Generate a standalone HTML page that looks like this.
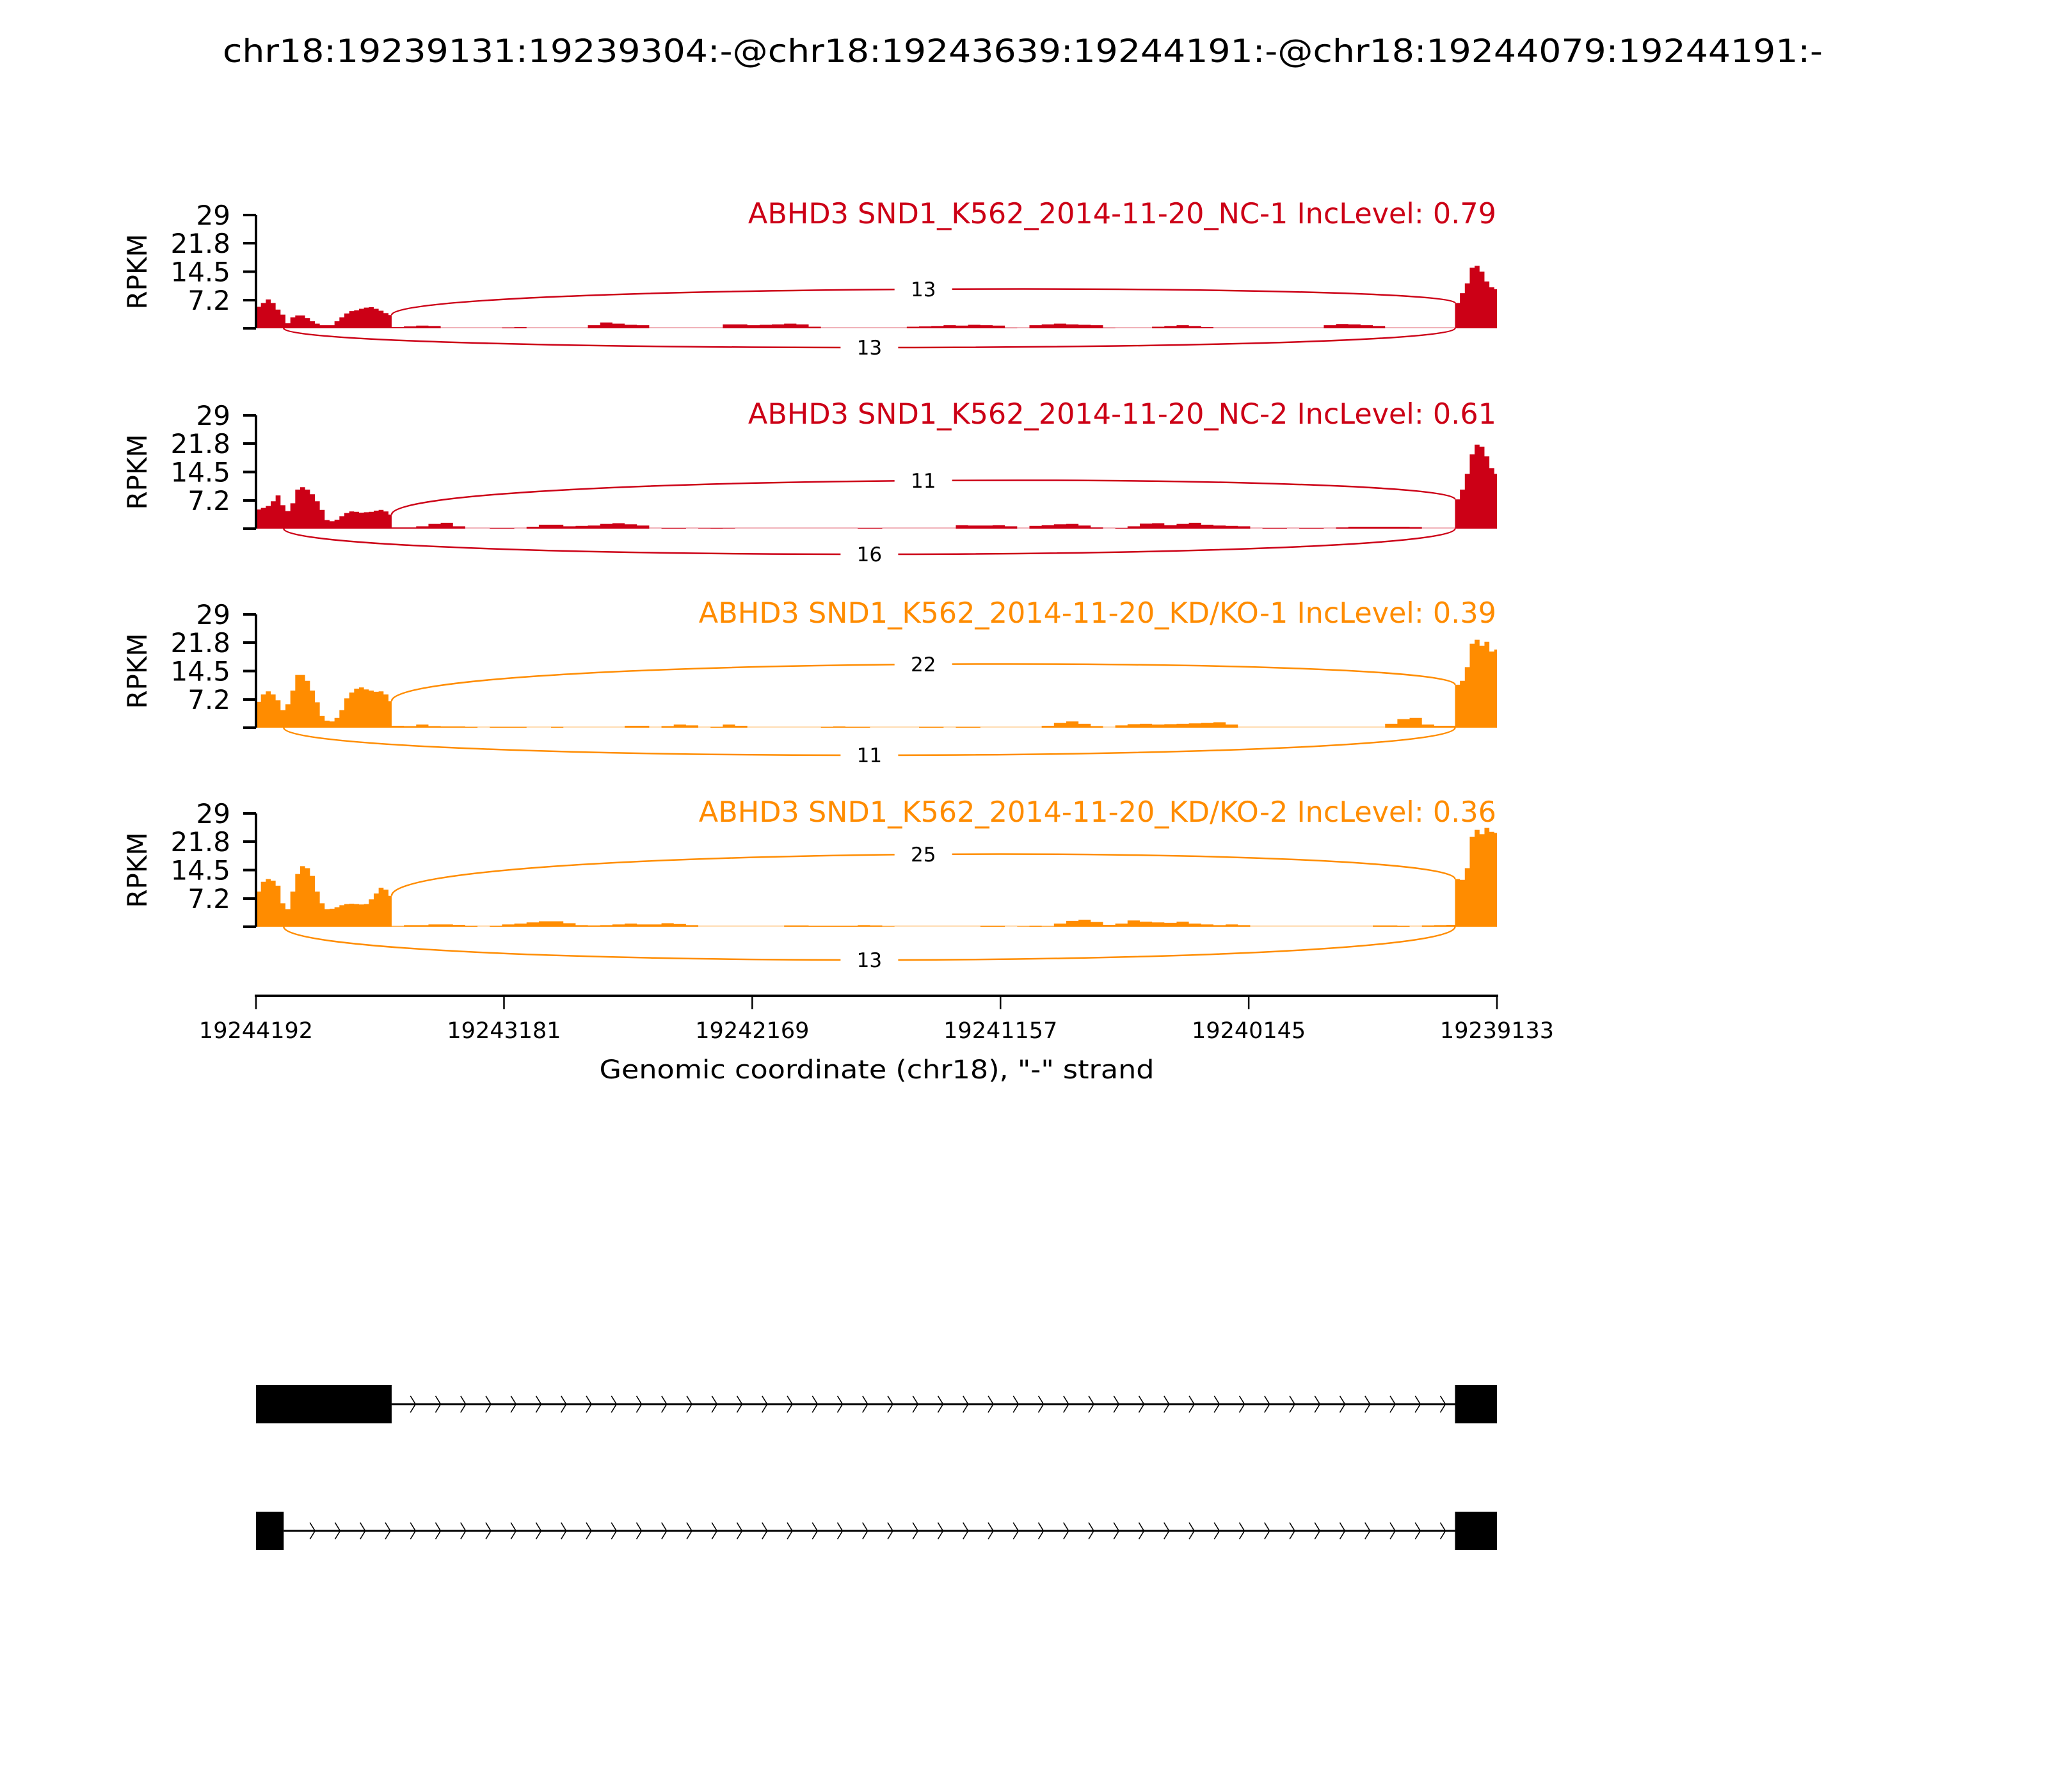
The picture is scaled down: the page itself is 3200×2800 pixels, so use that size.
<!DOCTYPE html>
<html><head><meta charset="utf-8"><title>Sashimi plot</title>
<style>
html,body{margin:0;padding:0;background:#fff;}
svg{display:block;font-family:"DejaVu Sans","Liberation Sans",sans-serif;}
</style></head>
<body>
<svg id="chart" width="3200" height="2800" viewBox="0 0 3200 2800" xmlns="http://www.w3.org/2000/svg">
<rect x="0" y="0" width="3200" height="2800" fill="#fff"/>
<text x="348" y="97" font-size="50" textLength="2500" lengthAdjust="spacingAndGlyphs">chr18:19239131:19239304:-@chr18:19243639:19244191:-@chr18:19244079:19244191:-</text>
<g id="panels"></g>
<g id="xaxis"></g>
<g id="genes"></g>
</svg>
<script>
// ---- data ----
const sampleNames = ["ABHD3 SND1_K562_2014-11-20_NC-1","ABHD3 SND1_K562_2014-11-20_NC-2","ABHD3 SND1_K562_2014-11-20_KD/KO-1","ABHD3 SND1_K562_2014-11-20_KD/KO-2"];
const incLevels = ["0.79","0.61","0.39","0.36"];
const sampleColors = ["#CC0016","#CC0016","#FF8C00","#FF8C00"];
const topCounts = [13,11,22,25];
const bottomCounts = [13,16,11,13];
const yTickValues = [0,7.2,14.5,21.8,29];
const yTickLabels = ["","7.2","14.5","21.8","29"];
const xTickValues = [19244192,19243181,19242169,19241157,19240145,19239133];
const xTickLabels = ["19244192","19243181","19242169","19241157","19240145","19239133"];
const exon1Start = 19244192, exon1End = 19243639, exon2Start = 19239304, regionEnd = 19239133;
const altExonEnd = 19244079;
const exonBin = 20, intronBin = 50;

const exon1Cov = [
 [5.5,6.5,7.4,6.5,4.8,3.5,1.3,2.8,3.3,3.3,2.6,1.8,1.2,0.8,0.8,0.8,1.8,2.8,3.8,4.4,4.6,5.0,5.3,5.4,5.0,4.5,3.9,3.4],
 [4.9,5.3,5.8,7.0,8.5,6.0,4.5,6.5,10.0,10.6,10.0,8.8,7.0,4.8,2.2,1.9,2.3,3.2,4.0,4.4,4.3,4.1,4.2,4.3,4.6,4.8,4.4,3.6],
 [6.6,8.5,9.3,8.5,7.0,4.5,6.0,9.5,13.5,13.5,12.0,9.5,6.5,3.0,1.8,1.6,2.5,4.5,7.5,9.0,10.0,10.3,9.8,9.5,9.2,9.3,8.5,6.8],
 [9.0,11.5,12.2,11.8,10.5,6.0,4.5,9.0,13.5,15.5,15.0,13.0,9.0,6.0,4.5,4.6,5.0,5.5,5.8,5.9,5.8,5.7,5.8,7.0,8.5,10.0,9.5,7.9]
];
const intronCov = [
 [0.3,0.5,0.7,0.6,0,0,0,0,0,0.2,0.3,0,0,0,0,0,0.8,1.5,1.2,0.9,0.8,0,0,0,0,0,0,1.0,1.0,0.8,0.9,1.0,1.2,1.0,0.4,0,0,0,0,0,0,0,0.4,0.5,0.6,0.8,0.7,0.9,0.8,0.7,0.1,0,0.8,1.0,1.2,1.0,0.9,0.8,0.1,0,0,0,0.4,0.6,0.8,0.6,0.3,0,0,0,0,0,0,0,0,0,0.8,1.1,1.0,0.8,0.6,0,0,0,0,0,0],
 [0.3,0.3,0.6,1.2,1.5,0.6,0,0,0.15,0.15,0,0.5,1.0,1.0,0.6,0.7,0.8,1.2,1.4,1.1,0.8,0,0.15,0.15,0,0.1,0.15,0.1,0,0,0,0,0,0,0,0,0,0,0.15,0.15,0,0,0,0,0,0,0.9,0.8,0.8,0.9,0.6,0,0.7,0.9,1.1,1.2,0.8,0.3,0,0.15,0.6,1.3,1.4,0.9,1.2,1.5,1.0,0.8,0.7,0.6,0,0.15,0.15,0,0.15,0.15,0,0.3,0.5,0.5,0.5,0.5,0.5,0.4,0,0,0],
 [0.5,0.4,0.8,0.4,0.3,0.3,0.2,0,0.2,0.2,0.2,0,0,0.2,0,0,0,0,0,0.5,0.5,0,0.4,0.8,0.6,0,0.2,0.8,0.5,0,0,0,0,0,0,0.2,0.3,0.2,0.2,0,0,0,0,0.2,0.2,0,0.2,0.2,0,0,0,0,0,0.5,1.2,1.6,1.0,0.4,0,0.6,0.9,1.0,0.8,0.9,1.0,1.1,1.2,1.4,0.8,0,0,0,0,0,0,0,0,0,0,0,0,1.0,2.2,2.5,0.8,0.5,0.5],
 [0.1,0.4,0.4,0.6,0.6,0.5,0.2,0,0.2,0.6,0.8,1.1,1.4,1.4,0.9,0.4,0.3,0.4,0.6,0.8,0.6,0.6,0.9,0.7,0.4,0,0,0,0,0,0,0,0.3,0.3,0.2,0.2,0.2,0.2,0.4,0.3,0.1,0,0,0,0,0,0,0,0.2,0.2,0,0.1,0.2,0.1,0.8,1.5,1.8,1.2,0.5,0.8,1.6,1.3,1.1,1.0,1.3,0.8,0.6,0.4,0.6,0.4,0,0,0,0,0,0,0,0,0,0,0.3,0.3,0.2,0,0.3,0.4,0.5]
];
const exon2Cov = [
 [6.5,9,11.5,15.5,16,14.5,12,10.5,10],
 [7.5,10,14,19,21.5,21,18.5,15.5,14],
 [11,12,15.5,21.5,22.5,21,22,19.5,20],
 [12.2,12,15,23,24.8,23.7,25.3,24.3,24]
];

// ---- layout ----
const X0 = 400, X1 = 2339, Y_MAX = 29, PANEL_H = 177;
const panelTops = [336, 649, 960, 1271];
const topLabelOffset = [61, 75, 99, 113];
const botLabelOffset = [30, 40, 43, 52];
const NS = "http://www.w3.org/2000/svg";
function xs(g){ return X0 + (exon1Start - g) * (X1 - X0) / (exon1Start - regionEnd); }
function ys(v, base){ return base - v * PANEL_H / Y_MAX; }
function mk(tag, attrs, parent){ const e = document.createElementNS(NS, tag); for (const k in attrs) e.setAttribute(k, attrs[k]); parent.appendChild(e); return e; }

const panelsG = document.getElementById("panels");
for (let s = 0; s < 4; s++) {
  const top = panelTops[s], base = top + PANEL_H, col = sampleColors[s];
  const g = mk("g", {}, panelsG);
  
  

  let d = "M" + xs(exon1Start) + "," + base;
  function addBins(arr, start, bin, stop) {
    for (let i = 0; i < arr.length; i++) {
      const a = start - i * bin; let b = start - (i + 1) * bin; if (b < stop) b = stop;
      const y = ys(arr[i], base);
      d += " L" + xs(a).toFixed(2) + "," + y.toFixed(2) + " L" + xs(b).toFixed(2) + "," + y.toFixed(2);
    }
  }
  addBins(exon1Cov[s], exon1Start, exonBin, exon1End);
  addBins(intronCov[s], exon1End, intronBin, exon2Start);
  addBins(exon2Cov[s], exon2Start, exonBin, regionEnd);
  d += " L" + xs(regionEnd) + "," + base + " Z";
  const baseLine = mk("line", {x1: X0, x2: X1, y1: base - 1, y2: base - 1, stroke: col, "stroke-opacity": 0.3, "stroke-width": 2}, g);
  
  
  const area = mk("path", {d: d, fill: col}, g);
  
  

  const ax = mk("line", {x1: X0, x2: X0, y1: top, y2: base, stroke: "#000", "stroke-width": 4}, g);
  
  
  for (let t = 0; t < yTickValues.length; t++) {
    const y = ys(yTickValues[t], base);
    const tk = mk("line", {x1: X0 - 20, x2: X0, y1: y, y2: y, stroke: "#000", "stroke-width": 4}, g);
    
    
    if (yTickLabels[t]) {
      const tl = mk("text", {x: 360, y: y + 15, "font-size": 42, "text-anchor": "end"}, g);
      tl.textContent = yTickLabels[t];
      
      
    }
  }
  const yl = mk("text", {x: 0, y: 0, "font-size": 42, "text-anchor": "middle", transform: "translate(229," + (top + PANEL_H / 2) + ") rotate(-90)"}, g);
  yl.textContent = "RPKM";
  
  

  const st = mk("text", {x: 2338, y: top + 13, "font-size": 44.5, "text-anchor": "end", fill: col}, g);
  st.textContent = sampleNames[s] + " IncLevel: " + incLevels[s];
  
  

  const ax0 = xs(exon1End), ax1 = xs(exon2Start);
  const ay0 = ys(exon1Cov[s][exon1Cov[s].length - 1], base), ay1 = ys(exon2Cov[s][0], base);
  const labY = base - topLabelOffset[s];
  const cp = (labY - (ay0 + ay1) / 8) / 0.75;
  const arc = mk("path", {d: `M${ax0},${ay0} C${ax0},${cp} ${ax1},${cp} ${ax1},${ay1}`, fill: "none", stroke: col, "stroke-width": 2.5}, g);
  
  
  const mx = (ax0 + ax1) / 2;
  const bg = mk("rect", {x: mx - 45, y: labY - 20, width: 90, height: 40, fill: "#fff"}, g);
  
  
  const lt = mk("text", {x: mx, y: labY + 11, "font-size": 31, "text-anchor": "middle"}, g);
  lt.textContent = topCounts[s];
  
  

  const bx0 = xs(altExonEnd), bx1 = xs(exon2Start);
  const bLab = base + botLabelOffset[s];
  const bcp = (bLab - base / 4) / 0.75;
  const barc = mk("path", {d: `M${bx0},${base} C${bx0},${bcp} ${bx1},${bcp} ${bx1},${base}`, fill: "none", stroke: col, "stroke-width": 2.5}, g);
  
  
  const bmx = (bx0 + bx1) / 2;
  const bbg = mk("rect", {x: bmx - 45, y: bLab - 20, width: 90, height: 40, fill: "#fff"}, g);
  
  
  const blt = mk("text", {x: bmx, y: bLab + 11, "font-size": 31, "text-anchor": "middle"}, g);
  blt.textContent = bottomCounts[s];
  
  
}

const xg = document.getElementById("xaxis");
const xl = mk("line", {x1: X0 - 2, x2: X1 + 2, y1: 1556, y2: 1556, stroke: "#000", "stroke-width": 4}, xg);


for (let i = 0; i < xTickValues.length; i++) {
  const x = xs(xTickValues[i]);
  const t = mk("line", {x1: x, x2: x, y1: 1556, y2: 1577, stroke: "#000", "stroke-width": 2.5}, xg);
  
  
  const tl = mk("text", {x: x, y: 1622, "font-size": 35, "text-anchor": "middle"}, xg);
  tl.textContent = xTickLabels[i];
  
  
}
const xt = mk("text", {x: 1370, y: 1685, "font-size": 40, "text-anchor": "middle", textLength: 867, lengthAdjust: "spacingAndGlyphs"}, xg);
xt.textContent = 'Genomic coordinate (chr18), "-" strand';



const gg = document.getElementById("genes");
const isoforms = [[exon1Start, exon1End], [exon1Start, altExonEnd]];
const isoY = [2194, 2392];
for (let k = 0; k < 2; k++) {
  const yc = isoY[k];
  const ig = mk("g", {}, gg);
  
  
  const la = xs(isoforms[k][1]), lb = xs(exon2Start);
  const ln = mk("line", {x1: la, x2: lb, y1: yc, y2: yc, stroke: "#000", "stroke-width": 3}, ig);
  
  
  for (let cx = lb - 16; cx > la + 12; cx -= 39.25) {
    const ch = mk("path", {d: `M${cx - 7},${yc - 13} L${cx + 1},${yc} L${cx - 7},${yc + 13}`, fill: "none", stroke: "#000", "stroke-width": 1.6}, ig);
    
    
  }
  const e1 = mk("rect", {x: xs(isoforms[k][0]), y: yc - 30, width: la - xs(isoforms[k][0]), height: 60, fill: "#000"}, ig);
  
  
  const e2 = mk("rect", {x: lb, y: yc - 30, width: xs(regionEnd) - lb, height: 60, fill: "#000"}, ig);
  
  
}
</script>
</body></html>
